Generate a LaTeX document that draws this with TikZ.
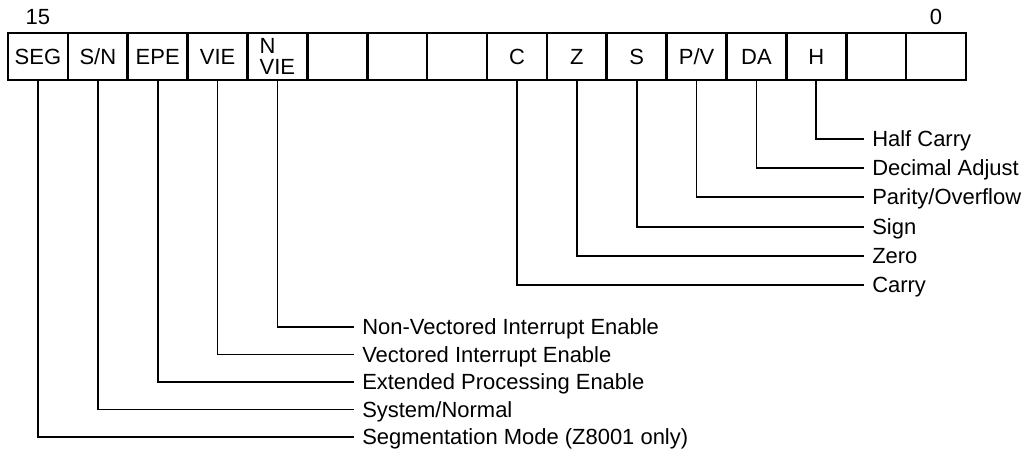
\documentclass[tikz,border=0pt]{standalone}
\usepackage{fontspec}
\setmainfont{Liberation Sans}
\usetikzlibrary{positioning}

\begin{document}
\begin{tikzpicture}[x=0.02cm, y=-0.02cm,
  cell/.style={draw, line width=1.5pt, anchor=north west, outer sep=0pt,
    minimum width=1.1975cm, minimum height=0.94cm, inner sep=0pt,
    font=\fontsize{12.5}{14}\selectfont},
  bitno/.style={inner sep=0pt, font=\fontsize{12.5}{14}\selectfont},
  lbl/.style={anchor=west, inner xsep=4.5pt, inner ysep=0pt,
    text height=9pt, text depth=0pt, font=\fontsize{12.5}{14}\selectfont},
  lead/.style={line width=1pt}
]
\useasboundingbox (0,0) rectangle (1034,456);

%% ── Register cells (bit 15 .. bit 0) ──
\foreach \txt [count=\i from 0] in {SEG,S/N,EPE,VIE,{\shortstack[l]{N\\VIE}},{},{},{},C,Z,S,P/V,DA,H,{},{}} {
  \pgfmathtruncatemacro\b{15-\i}
  \node[cell] (b\b) at (8+59.875*\i, 33) {\txt};
}

\node[bitno, above=0.16cm of b15] (n15) {15};
\node[bitno, above=0.16cm of b0]  (n0)  {0};

%% ── Flag names ──
\node[lbl] (l2) at (864,139) {Half Carry};
\node[lbl] (l3) at (864,168) {Decimal Adjust};
\node[lbl] (l4) at (864,197) {Parity/Overflow};
\node[lbl] (l5) at (864,227) {Sign};
\node[lbl] (l6) at (864,256) {Zero};
\node[lbl] (l7) at (864,285) {Carry};

\node[lbl] (l11) at (354,327)   {Non-Vectored Interrupt Enable};
\node[lbl] (l12) at (354,354.5) {Vectored Interrupt Enable};
\node[lbl] (l13) at (354,382)   {Extended Processing Enable};
\node[lbl] (l14) at (354,409.5) {System/Normal};
\node[lbl] (l15) at (354,437)   {Segmentation Mode (Z8001 only)};

%% ── Leaders ──
\foreach \b in {2,3,4,5,6,7,11,12,13,14,15}
  \draw[lead] (b\b.south) |- (l\b.west);

\end{tikzpicture}
\end{document}
